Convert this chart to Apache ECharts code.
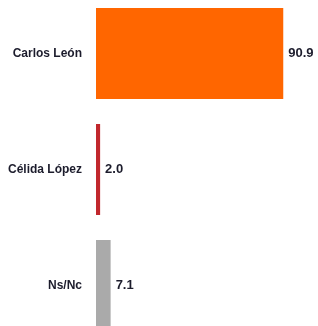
<!DOCTYPE html>
<html>
<head>
<meta charset="utf-8">
<script src="https://cdn.jsdelivr.net/npm/echarts@6/dist/echarts.min.js"></script>
<style>
  html, body { margin: 0; padding: 0; background: #fff; }
  #chart { width: 318px; height: 326px; }
</style>
</head>
<body>
<div id="chart"></div>
<script>
const categories = ['Carlos León', 'Célida López', 'Ns/Nc'];
const values = [90.9, 2.0, 7.1];
const colors = ['#ff6600', '#c1272d', '#aaaaaa'];

const chart = echarts.init(document.getElementById('chart'));

const textFont = '"Liberation Sans", Arial, sans-serif';

chart.setOption({
    animation: false,
    grid: {
        left: 96,
        right: 16,
        top: 53.5,
        bottom: 40.5,
        outerBoundsMode: 'none',
        containLabel: false
    },
    xAxis: {
        type: 'value',
        min: 0,
        max: 100,
        show: false
    },
    yAxis: {
        type: 'category',
        data: categories,
        inverse: true,
        boundaryGap: false,
        axisLine: { show: false },
        axisTick: { show: false },
        splitLine: { show: false },
        axisLabel: {
            margin: 14,
            color: '#1c1c2c',
            fontFamily: textFont,
            fontWeight: 'bold',
            fontSize: 12
        }
    },
    series: [{
        type: 'bar',
        barWidth: 91,
        clip: false,
        data: values.map((v, i) => ({ value: v, itemStyle: { color: colors[i] } })),
        label: {
            show: true,
            position: 'right',
            distance: 5,
            formatter: p => p.value.toFixed(1),
            color: '#1c1c2c',
            fontFamily: textFont,
            fontWeight: 'bold',
            fontSize: 13
        }
    }]
});
</script>
</body>
</html>
